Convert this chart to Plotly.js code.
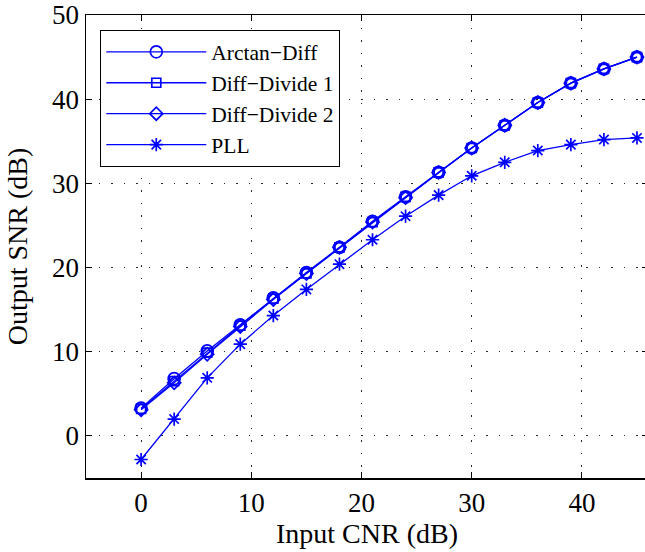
<!DOCTYPE html>
<html>
<head>
<meta charset="utf-8">
<script src="https://cdn.plot.ly/plotly-3.0.1.min.js"></script>
<style>
html,body{margin:0;padding:0;overflow:hidden;background:#fff;}
#chart{width:668px;height:552px;}
</style>
</head>
<body>
<div id="chart"></div>
<script>
const cnr = [0, 3, 6, 9, 12, 15, 18, 21, 24, 27, 30, 33, 36, 39, 42, 45];
const arctanDiff = [3.3, 6.8, 10.1, 13.2, 16.4, 19.4, 22.4, 25.5, 28.4, 31.3, 34.2, 36.9, 39.6, 41.9, 43.6, 45.0];
const diffDivide1 = [3.2, 6.5, 9.9, 13.1, 16.3, 19.3, 22.4, 25.4, 28.4, 31.3, 34.2, 36.9, 39.6, 41.9, 43.6, 45.0];
const diffDivide2 = [3.1, 6.3, 9.7, 13.0, 16.2, 19.3, 22.4, 25.4, 28.3, 31.3, 34.2, 36.9, 39.6, 41.9, 43.6, 45.0];
const pll = [-2.8, 2.0, 6.9, 10.9, 14.3, 17.4, 20.4, 23.3, 26.1, 28.6, 30.9, 32.5, 33.9, 34.6, 35.2, 35.4];
const seriesNames = ["Arctan\u2212Diff", "Diff\u2212Divide 1", "Diff\u2212Divide 2", "PLL"];
const xTicks = [0, 10, 20, 30, 40];
const yTicks = [0, 10, 20, 30, 40, 50];

const blue = "rgb(0,0,255)";
function tr(y, name, symbol, size) {
  return {
    x: cnr, y: y, name: name, type: "scatter", mode: "lines+markers",
    line: {color: blue, width: 1.3},
    marker: {symbol: symbol, size: size, color: blue, line: {color: blue, width: 1.7}}
  };
}
const data = [
  tr(arctanDiff, seriesNames[0], "circle-open", 12),
  tr(diffDivide1, seriesNames[1], "square-open", 9),
  tr(diffDivide2, seriesNames[2], "diamond-open", 10),
  tr(pll, seriesNames[3], "asterisk-open", 11)
];
const font = "'Liberation Serif', 'Times New Roman', serif";
const axisCommon = {
  showline: true, linecolor: "black", linewidth: 1.5, mirror: "allticks",
  ticks: "inside", ticklen: 6, tickwidth: 1, tickcolor: "black",
  showgrid: true, gridcolor: "rgb(40,40,40)", gridwidth: 1, griddash: "1.5px,11px",
  zeroline: false, tickfont: {family: font, size: 27, color: "black"}
};
const layout = {
  width: 668, height: 552,
  margin: {l: 86, r: 20, t: 15, b: 74},
  paper_bgcolor: "white", plot_bgcolor: "white",
  font: {family: font, color: "black"},
  showlegend: true,
  legend: {
    x: 0.0249, y: 0.9676, xanchor: "left", yanchor: "top",
    bgcolor: "white", bordercolor: "black", borderwidth: 1.3,
    font: {family: font, size: 21.5, color: "black"},
    itemwidth: 100, tracegroupgap: 0
  },
  xaxis: Object.assign({}, axisCommon, {
    range: [-5, 46], tickvals: xTicks, ticktext: xTicks.map(String),
    title: {text: "Input CNR (dB)", font: {family: font, size: 28, color: "black"}, standoff: 0}
  }),
  yaxis: Object.assign({}, axisCommon, {
    range: [-5, 50], tickvals: yTicks, ticktext: yTicks.map(String),
    title: {text: "Output SNR (dB)", font: {family: font, size: 28, color: "black"}, standoff: 16}
  })
};
Plotly.newPlot("chart", data, layout, {staticPlot: true, displayModeBar: false});
</script>
</body>
</html>
